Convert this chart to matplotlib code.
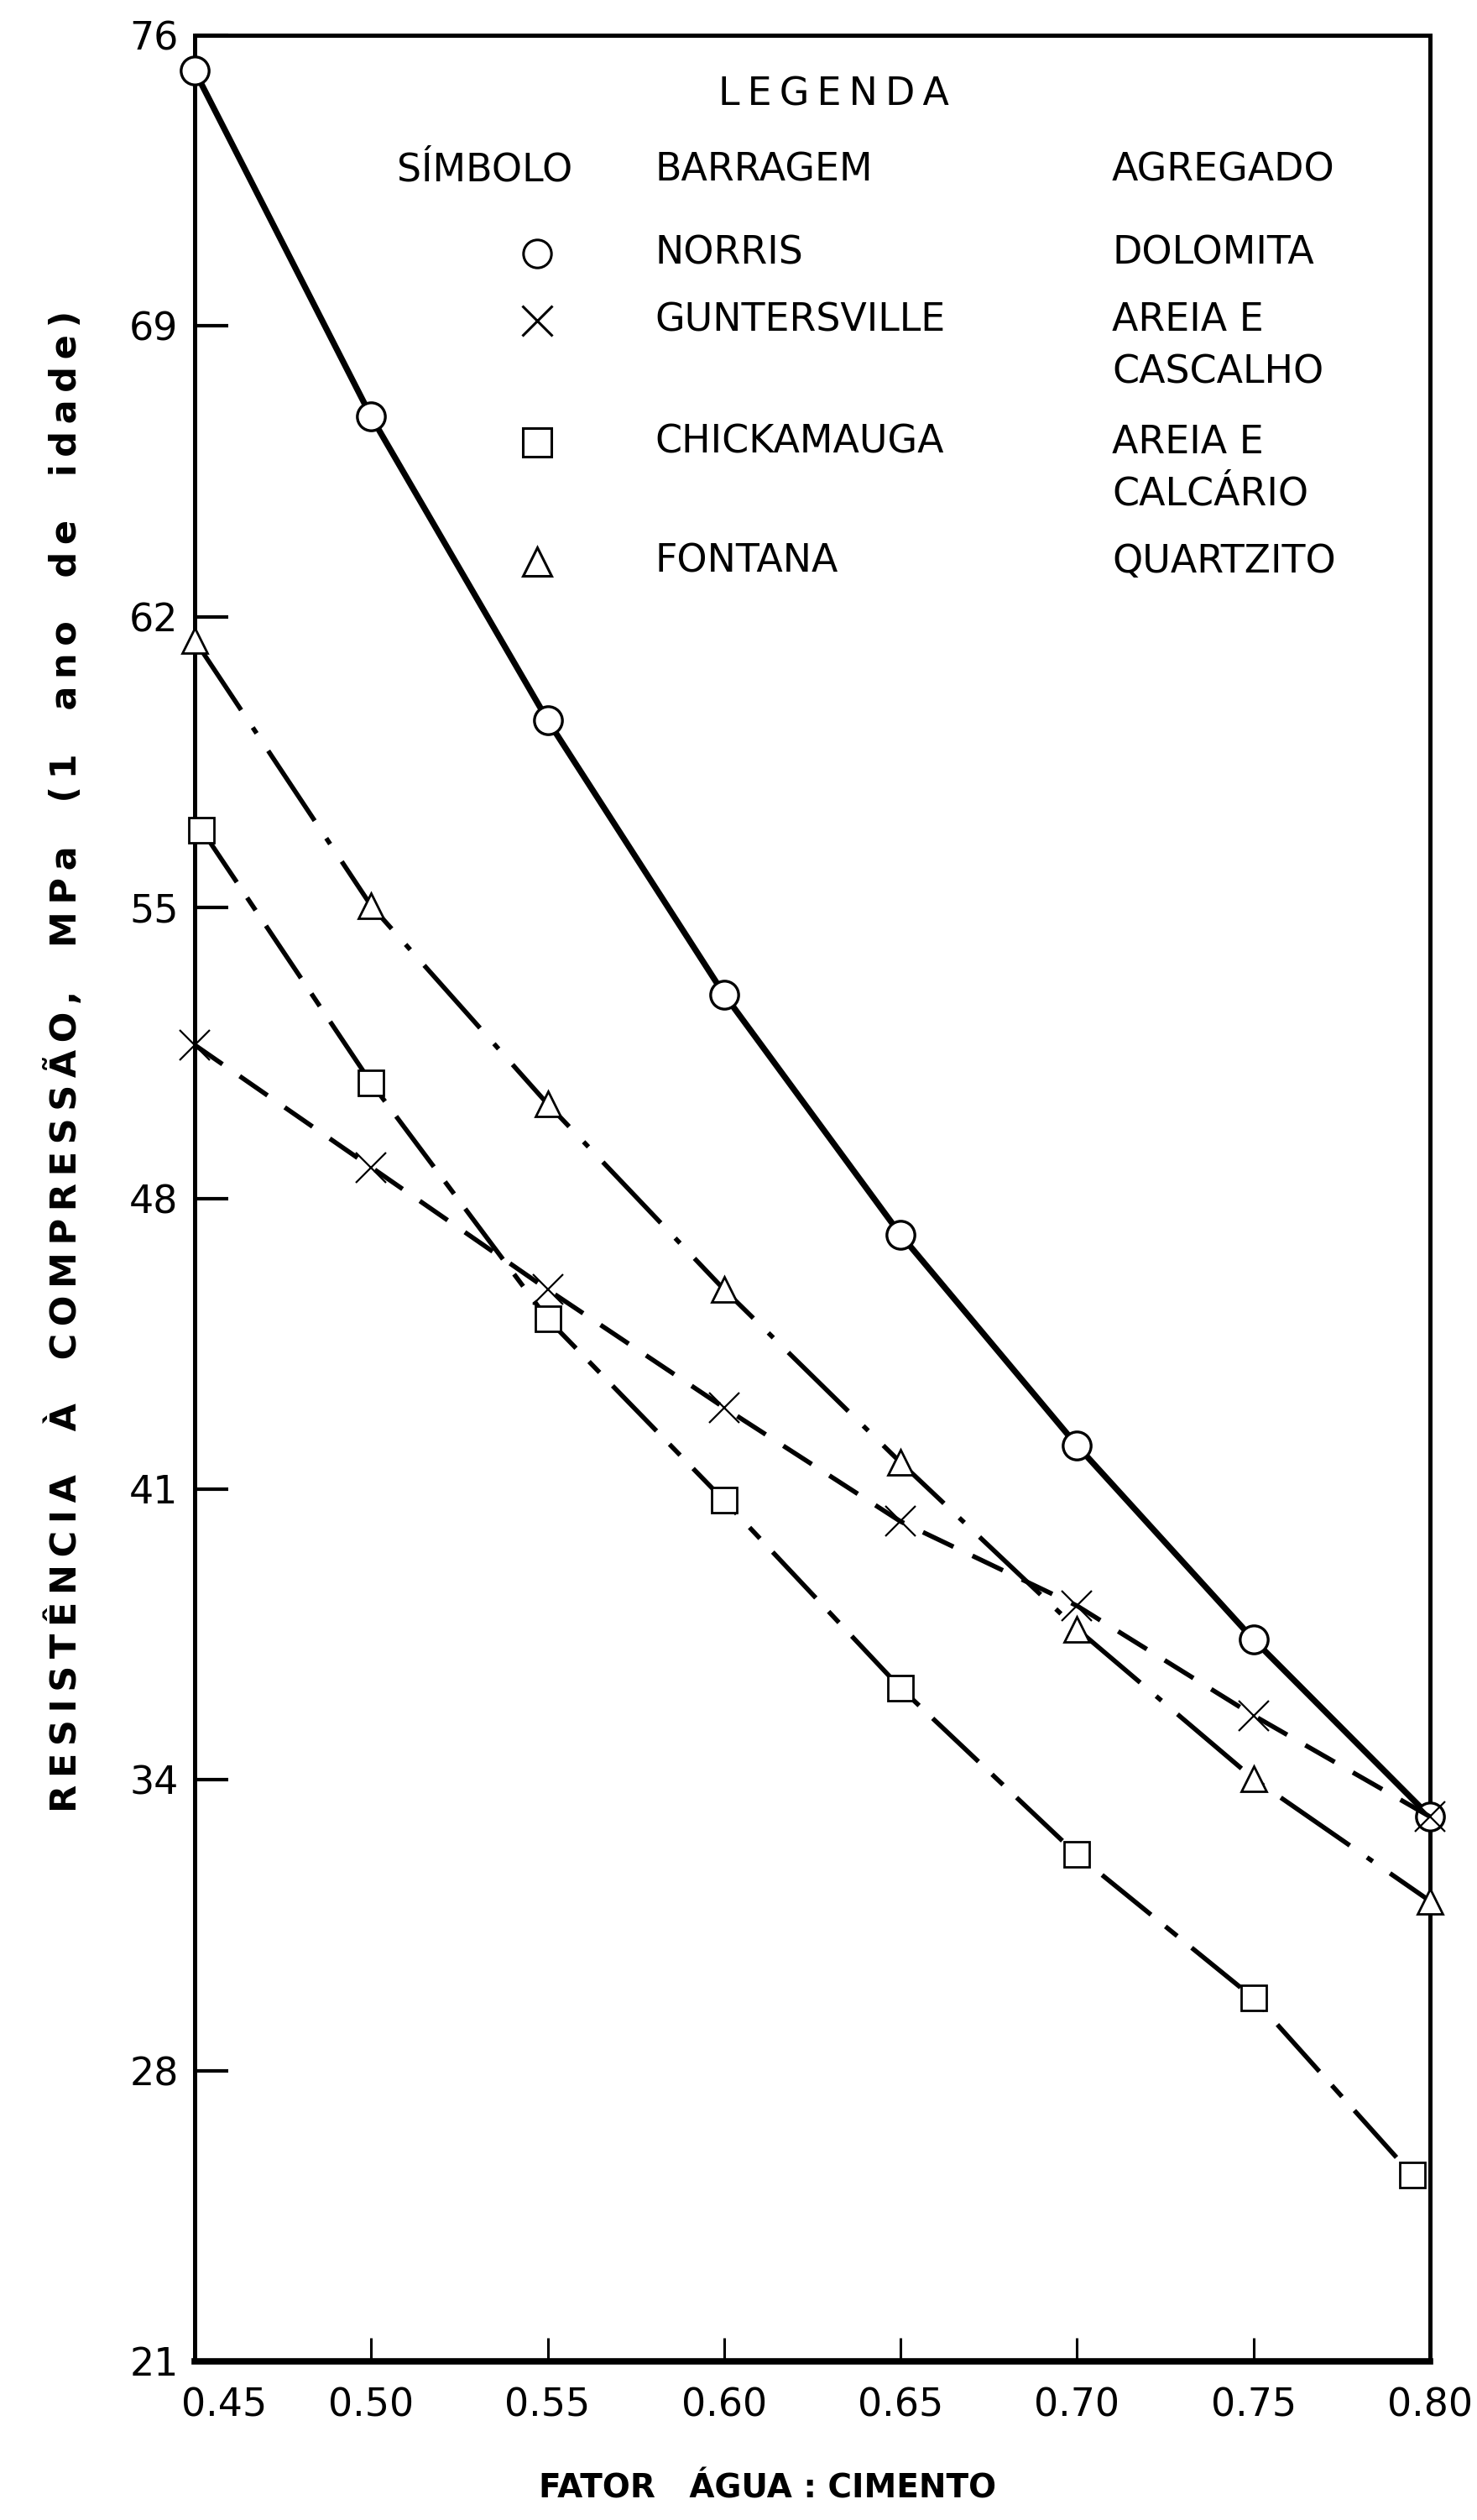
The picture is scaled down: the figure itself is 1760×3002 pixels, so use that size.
"""Resistência à compressão x fator água:cimento (quatro barragens)."""

import matplotlib

matplotlib.use("Agg")
import matplotlib.pyplot as plt
from matplotlib.transforms import ScaledTranslation

plt.rcParams["font.family"] = ["DejaVu Sans"]
plt.rcParams["lines.scale_dashes"] = False

# fator água:cimento
wc_ratio = [0.45, 0.50, 0.55, 0.60, 0.65, 0.70, 0.75, 0.80]
wc_ratio_chick = [0.452, 0.50, 0.55, 0.60, 0.65, 0.70, 0.75, 0.795]

# resistência (MPa, 1 ano)
norris = [75.0, 66.8, 59.6, 53.1, 47.4, 42.4, 37.8, 33.6]
guntersville = [51.9, 49.0, 46.1, 43.3, 40.6, 38.6, 36.0, 33.6]
chickamauga = [57.0, 51.0, 45.4, 41.1, 36.65, 32.7, 29.3, 25.1]
fontana = [61.5, 55.2, 50.5, 46.1, 42.0, 38.05, 34.5, 31.6]

# eixo y linear em psi (3000 ... 11000), rotulado em MPa arredondado
psi_to_mpa = 0.0068948
y_ticks = [psi_to_mpa * p for p in range(3000, 11001, 1000)]
y_labels = ["21", "28", "34", "41", "48", "55", "62", "69", "76"]
x_ticks = [0.45, 0.50, 0.55, 0.60, 0.65, 0.70, 0.75, 0.80]
x_labels = ["0.45", "0.50", "0.55", "0.60", "0.65", "0.70", "0.75", "0.80"]

legend_rows = [
    ("NORRIS", ["DOLOMITA"]),
    ("GUNTERSVILLE", ["AREIA E", "CASCALHO"]),
    ("CHICKAMAUGA", ["AREIA E", "CALCÁRIO"]),
    ("FONTANA", ["QUARTZITO"]),
]

W, H = 1760, 3002
fig = plt.figure(figsize=(W / 100, H / 100), dpi=100)
ax = fig.add_axes([232 / W, 1 - 2813 / H, (1704 - 232) / W, (2813 - 42) / H])


def fx(px):
    return px / W


def fy(py):
    return 1 - py / H


common = dict(color="black", markerfacecolor="white", markeredgecolor="black",
              clip_on=False, zorder=3)

ax.plot(wc_ratio, norris, marker="o", ms=24, mew=2.4, lw=5.2, ls="-", **common)
ax.plot(wc_ratio, guntersville, marker="x", ms=26, mew=1.6, lw=4.0,
        dashes=(29, 18), **common)
ax.plot(wc_ratio_chick, chickamauga, marker="s", ms=22, mew=2.0, lw=4.0,
        dashes=(54, 16, 13, 16), **common)
ax.plot(wc_ratio, fontana, marker="^", ms=22, mew=2.0, lw=4.0,
        dashes=(72, 18, 6, 18), **common)

ax.set_xlim(0.45, 0.80)
ax.set_ylim(y_ticks[0], y_ticks[-1])
ax.set_xticks(x_ticks)
ax.set_xticklabels(x_labels)
ax.set_yticks(y_ticks)
ax.set_yticklabels(y_labels)
ax.tick_params(axis="y", direction="in", length=29, width=3, labelsize=33, pad=14)
ax.tick_params(axis="x", direction="in", length=20, width=2.2, labelsize=33, pad=22)
for side in ("left", "top", "right"):
    ax.spines[side].set_linewidth(3.6)
ax.spines["bottom"].set_linewidth(5.5)

# primeiro rótulo x deslocado para não encostar no "21"
first = ax.get_xticklabels()[0]
first.set_transform(first.get_transform() + ScaledTranslation(0.35, 0, fig.dpi_scale_trans))

thin = "\u2009"


def spaced(text):
    return thin.join(text)


ylabel = (thin * 6).join(spaced(w) for w in
                         ["RESISTÊNCIA", "À", "COMPRESSÃO,", "MPa", "(1", "ano", "de", "idade)"])
fig.text(fx(77), fy(1264), ylabel, rotation=90, ha="center", va="center",
         fontsize=31, fontweight="bold")
fig.text(fx(915), fy(2965), "FATOR   ÁGUA : CIMENTO", ha="center", va="center",
         fontsize=28, fontweight="bold")

# legenda manual em três colunas
leg_fs = 33
fig.text(fx(993), fy(113), spaced("LEGENDA"), ha="center", va="center", fontsize=leg_fs)
fig.text(fx(578), fy(203), "SÍMBOLO", ha="center", va="center", fontsize=leg_fs)
fig.text(fx(780), fy(203), "BARRAGEM", ha="left", va="center", fontsize=leg_fs)
fig.text(fx(1325), fy(203), "AGREGADO", ha="left", va="center", fontsize=leg_fs)

row_y = [302, 382, 527, 669]
line_gap = 62
symbols = [("o", 24), ("x", 26), ("s", 24), ("^", 24)]
for (name, aggs), y, (mk, ms) in zip(legend_rows, row_y, symbols):
    ax.plot([fx(640)], [fy(y)], marker=mk, ms=ms, mew=2.2, color="black",
            markerfacecolor="white", transform=fig.transFigure, clip_on=False)
    fig.text(fx(780), fy(y), name, ha="left", va="center", fontsize=leg_fs)
    for i, agg in enumerate(aggs):
        fig.text(fx(1325), fy(y + i * line_gap), agg, ha="left", va="center",
                 fontsize=leg_fs)

fig.savefig("out.png", dpi=100)
